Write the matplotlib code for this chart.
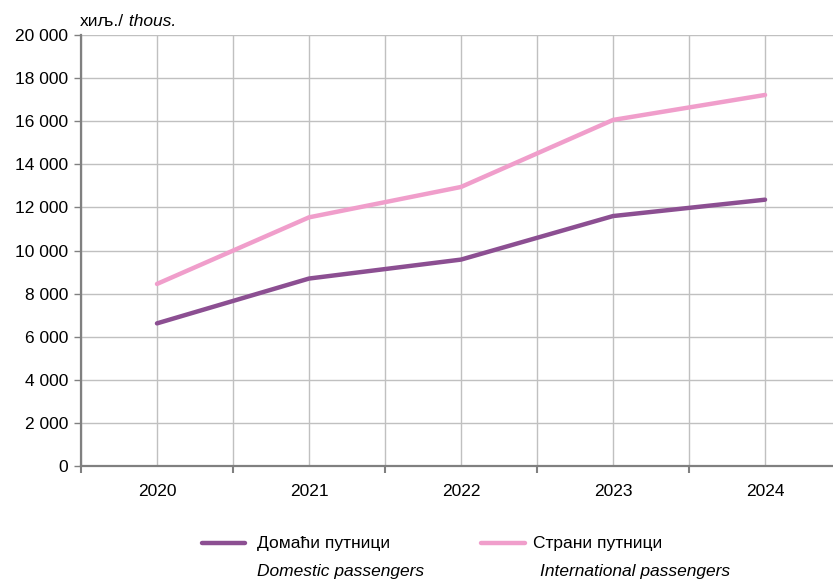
import matplotlib.pyplot as plt
import matplotlib
from matplotlib.lines import Line2D
from matplotlib.ticker import FuncFormatter, MultipleLocator, FixedLocator

matplotlib.rc('font', family=['Liberation Sans', 'DejaVu Sans'], size=12.5)

years = ['2020', '2021', '2022', '2023', '2024']
domestic = [6620, 8700, 9580, 11600, 12360]
international = [8450, 11540, 12950, 16060, 17220]

purple = '#8c4f92'
pink = '#f09ecb'

fig = plt.figure(figsize=(8.33, 5.84), dpi=100)
ax = fig.add_axes([0.0972, 0.202, 0.9028, 0.738])

x = list(range(len(years)))
ax.plot(x, domestic, color=purple, lw=3.2, solid_capstyle='round')
ax.plot(x, international, color=pink, lw=3.2, solid_capstyle='round')

ax.set_xlim(-0.5, 4.447)
ax.set_ylim(0, 20000)
ax.yaxis.set_major_locator(MultipleLocator(2000))
ax.yaxis.set_major_formatter(FuncFormatter(lambda v, p: f'{int(v):,}'.replace(',', ' ')))

# ticks at category boundaries, labels at centres
ax.xaxis.set_major_locator(FixedLocator([i - 0.5 for i in range(6)]))
ax.xaxis.set_minor_locator(FixedLocator(x))
ax.set_xticklabels([])
ax.set_xticklabels(years, minor=True)
ax.tick_params(axis='x', which='minor', length=0, pad=13)
ax.tick_params(axis='x', which='major', length=5, color='#808080', width=1.5)
ax.tick_params(axis='y', length=5, color='#808080', width=1, pad=4)

ax.grid(True, which='both', axis='x', color='#c0c0c0', lw=1)
ax.grid(True, axis='y', color='#c0c0c0', lw=1)
ax.set_axisbelow(True)

for s in ['top', 'right']:
    ax.spines[s].set_visible(False)
for s in ['left', 'bottom']:
    ax.spines[s].set_color('#808080')
    ax.spines[s].set_linewidth(1.6)

unit = fig.text(0.096, 0.955, 'хиљ./', fontsize=12.5, va='baseline')
ax.annotate(' thous.', xy=(1, 0), xycoords=unit, fontsize=12.5, style='italic',
            va='bottom', ha='left')

# legend below plot
fig.add_artist(Line2D([0.242, 0.294], [0.07, 0.07], color=purple, lw=3.2, solid_capstyle='round'))
fig.add_artist(Line2D([0.578, 0.63], [0.07, 0.07], color=pink, lw=3.2, solid_capstyle='round'))
fig.text(0.308, 0.069, 'Домаћи путници', va='center')
fig.text(0.309, 0.022, 'Domestic passengers', style='italic', va='center')
fig.text(0.640, 0.069, 'Страни путници', va='center')
fig.text(0.648, 0.022, 'International passengers', style='italic', va='center')

fig.savefig('out.png', dpi=100)
